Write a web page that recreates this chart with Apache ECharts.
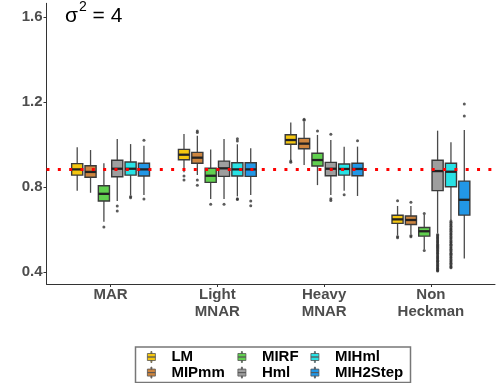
<!DOCTYPE html>
<html>
<head>
<meta charset="utf-8">
<script src="https://cdn.jsdelivr.net/npm/echarts@6/dist/echarts.min.js"></script>
<style>
  html, body { margin: 0; padding: 0; background: #fff; }
  #main { width: 498px; height: 383px; }
</style>
</head>
<body>
<div id="main"></div>
<script>
// categories and methods
const categories = ['MAR', 'Light\nMNAR', 'Heavy\nMNAR', 'Non\nHeckman'];
const methods = ['LM', 'MIPmm', 'MIRF', 'Hml', 'MIHml', 'MIH2Step'];
const methodColors = ['#F5C710', '#CD853F', '#61D04F', '#9E9E9E', '#28E2E5', '#2297E6'];
const yTicks = [0.4, 0.8, 1.2, 1.6];
const refValue = 0.883;

// box stats per category: [min, q1, median, q3, max]
const lmStats = [
  [0.783, 0.856, 0.883, 0.910, 0.987],
  [0.869, 0.928, 0.952, 0.977, 1.049],
  [0.927, 1.001, 1.021, 1.046, 1.104],
  [0.574, 0.629, 0.648, 0.667, 0.711]
];
const mipmmStats = [
  [0.773, 0.846, 0.871, 0.900, 0.974],
  [0.856, 0.912, 0.938, 0.963, 1.041],
  [0.904, 0.980, 1.004, 1.029, 1.107],
  [0.579, 0.624, 0.645, 0.664, 0.711]
];
const mirfStats = [
  [0.637, 0.734, 0.768, 0.806, 0.912],
  [0.744, 0.822, 0.853, 0.888, 0.977],
  [0.809, 0.899, 0.927, 0.959, 1.045],
  [0.507, 0.569, 0.592, 0.610, 0.670]
];
const hmlStats = [
  [0.734, 0.848, 0.886, 0.926, 1.026],
  [0.744, 0.850, 0.888, 0.922, 1.026],
  [0.762, 0.853, 0.886, 0.916, 1.021],
  [0.584, 0.783, 0.875, 0.926, 1.065]
];
const mihmlStats = [
  [0.762, 0.856, 0.886, 0.918, 1.002],
  [0.756, 0.852, 0.883, 0.914, 1.001],
  [0.783, 0.856, 0.885, 0.908, 0.990],
  [0.645, 0.801, 0.872, 0.912, 1.010]
];
const mih2stepStats = [
  [0.762, 0.852, 0.883, 0.912, 0.994],
  [0.762, 0.850, 0.883, 0.914, 0.982],
  [0.758, 0.853, 0.885, 0.912, 0.990],
  [0.464, 0.668, 0.740, 0.828, 1.068]
];

// outliers: [category index, value]
const lmOut = [[1, 0.852], [1, 0.833], [2, 0.922], [2, 0.917], [3, 0.736], [3, 0.567], [3, 0.561]];
const mipmmOut = [[1, 1.064], [1, 1.057], [1, 0.833], [1, 0.808], [2, 1.119], [2, 1.114],
  [3, 0.729], [3, 0.572], [3, 0.566]];
const mirfOut = [[0, 0.612], [1, 0.719], [2, 1.064], [3, 0.675], [3, 0.502]];
const hmlOut = [[0, 0.711], [0, 0.687], [1, 0.719], [2, 1.048], [2, 0.745], [2, 0.737],
  [3, 0.577], [3, 0.572], [3, 0.566], [3, 0.561], [3, 0.557], [3, 0.551], [3, 0.546], [3, 0.541],
  [3, 0.537], [3, 0.531], [3, 0.526], [3, 0.522], [3, 0.517], [3, 0.512], [3, 0.506], [3, 0.502],
  [3, 0.497], [3, 0.491], [3, 0.487], [3, 0.482], [3, 0.476], [3, 0.471], [3, 0.466], [3, 0.462],
  [3, 0.456], [3, 0.451], [3, 0.447], [3, 0.441], [3, 0.436], [3, 0.431], [3, 0.426], [3, 0.421],
  [3, 0.417], [3, 0.412], [3, 0.408], [3, 0.405]];
const mihmlOut = [[0, 0.755], [0, 0.750], [1, 1.016], [1, 1.027], [1, 0.745], [1, 0.741], [2, 0.764],
  [3, 0.640], [3, 0.634], [3, 0.627], [3, 0.621], [3, 0.616], [3, 0.609], [3, 0.603], [3, 0.598],
  [3, 0.592], [3, 0.585], [3, 0.579], [3, 0.574], [3, 0.567], [3, 0.561], [3, 0.556], [3, 0.549],
  [3, 0.543], [3, 0.538], [3, 0.531], [3, 0.526], [3, 0.519], [3, 0.513], [3, 0.508], [3, 0.501],
  [3, 0.496], [3, 0.489], [3, 0.484], [3, 0.478], [3, 0.471], [3, 0.466], [3, 0.459], [3, 0.453],
  [3, 0.447], [3, 0.441], [3, 0.436], [3, 0.429], [3, 0.424], [3, 0.420]];
const mih2stepOut = [[0, 1.020], [0, 0.744], [1, 0.734], [1, 0.712], [2, 1.018], [3, 1.191], [3, 1.134]];

const allStats = [lmStats, mipmmStats, mirfStats, hmlStats, mihmlStats, mih2stepStats];
const allOut = [lmOut, mipmmOut, mirfOut, hmlOut, mihmlOut, mih2stepOut];

const dodge = 0.125;   // spacing between boxes in a group (x units)
const boxW = 0.104;    // box width (x units)

function offsetOf(j) {
  return (j - 2.5) * dodge;
}

function makeBoxRender(j) {
  return function (params, api) {
    const xc = api.value(0) + 1 + offsetOf(j);
    const pMin = api.coord([xc, api.value(1)]);
    const pQ1 = api.coord([xc, api.value(2)]);
    const pMed = api.coord([xc, api.value(3)]);
    const pQ3 = api.coord([xc, api.value(4)]);
    const pMax = api.coord([xc, api.value(5)]);
    const xl = api.coord([xc - boxW / 2, api.value(3)])[0];
    const xr = api.coord([xc + boxW / 2, api.value(3)])[0];
    return {
      type: 'group',
      children: [
        { type: 'line', shape: { x1: pMin[0], y1: pMin[1], x2: pQ1[0], y2: pQ1[1] },
          style: { stroke: '#4a4a4a', lineWidth: 1.3 } },
        { type: 'line', shape: { x1: pQ3[0], y1: pQ3[1], x2: pMax[0], y2: pMax[1] },
          style: { stroke: '#4a4a4a', lineWidth: 1.3 } },
        { type: 'rect', shape: { x: xl, y: pQ3[1], width: xr - xl, height: pQ1[1] - pQ3[1] },
          style: { fill: api.visual('color'), stroke: '#3a3a3a', lineWidth: 1.4 } },
        { type: 'line', shape: { x1: xl, y1: pMed[1], x2: xr, y2: pMed[1] },
          style: { stroke: '#222', lineWidth: 2.3 } }
      ]
    };
  };
}

const series = [];
methods.forEach(function (name, j) {
  series.push({
    name: name,
    type: 'custom',
    renderItem: makeBoxRender(j),
    itemStyle: { color: methodColors[j] },
    encode: { x: 0, y: [1, 2, 3, 4, 5] },
    data: allStats[j].map(function (s, c) { return [c].concat(s); }),
    z: 2
  });
});
methods.forEach(function (name, j) {
  series.push({
    name: name + ' outliers',
    type: 'scatter',
    symbolSize: 3,
    itemStyle: { color: '#333' },
    data: allOut[j].map(function (o) { return [o[0] + 1 + offsetOf(j), o[1]]; }),
    z: 3,
    silent: true
  });
});
series.push({
  name: 'reference',
  type: 'line',
  data: [[0.4, refValue], [4.6, refValue]],
  symbol: 'none',
  lineStyle: { color: '#FF0000', width: 3, type: [3, 8.33], cap: 'butt' },
  z: 5,
  silent: true
});

const legendIcon = 'path://M0,2h8v3.5h-8Z M0,5.5h8v3.5h-8Z M3.5,0h1v2h-1Z M3.5,9h1v2h-1Z';
function makeLegend(left, names) {
  return {
    orient: 'vertical',
    left: left,
    top: 349.5,
    padding: 0,
    itemGap: 0.6,
    itemWidth: 8,
    itemHeight: 11,
    icon: legendIcon,
    itemStyle: { borderColor: '#555', borderWidth: 0.8 },
    data: names,
    selectedMode: false,
    textStyle: {
      fontFamily: 'Liberation Sans',
      fontSize: 15,
      fontWeight: 'bold',
      color: '#000',
      lineHeight: 12,
      padding: [0, 0, 0, 11]
    }
  };
}

const chart = echarts.init(document.getElementById('main'), null, { renderer: 'canvas' });
chart.setOption({
  animation: false,
  backgroundColor: '#fff',
  title: {
    text: '{a|σ}{s|2}{a| = 4}',
    left: 65,
    top: 0,
    padding: 0,
    textStyle: {
      fontWeight: 'normal',
      rich: {
        a: { fontFamily: 'Liberation Sans', fontSize: 21, fontWeight: 'normal', color: '#000', lineHeight: 27, verticalAlign: 'bottom' },
        s: { fontFamily: 'Liberation Sans', fontSize: 14, fontWeight: 'normal', color: '#000', lineHeight: 27, verticalAlign: 'top', padding: [0, 0, 0, 1] }
      }
    }
  },
  grid: { left: 46.5, right: 3, top: 3.3, bottom: 99, containLabel: false, outerBoundsMode: 'none' },
  xAxis: {
    type: 'value',
    min: 0.4,
    max: 4.6,
    splitLine: { show: false },
    axisLine: { show: true, lineStyle: { color: '#333', width: 1 } },
    axisTick: { show: true, customValues: [1, 2, 3, 4], length: 3, lineStyle: { color: '#333' } },
    axisLabel: {
      customValues: [1, 2, 3, 4],
      formatter: function (v) { return categories[Math.round(v) - 1]; },
      fontFamily: 'Liberation Sans',
      fontSize: 15,
      fontWeight: 'bold',
      color: '#4D4D4D',
      lineHeight: 17,
      margin: 2
    }
  },
  yAxis: {
    type: 'value',
    min: 0.344,
    max: 1.664,
    splitLine: { show: false },
    axisLine: { show: true, lineStyle: { color: '#333', width: 1 } },
    axisTick: { show: true, customValues: yTicks, length: 3, lineStyle: { color: '#333' } },
    axisLabel: {
      customValues: yTicks,
      formatter: function (v) { return v.toFixed(1); },
      fontFamily: 'Liberation Sans',
      fontSize: 15,
      fontWeight: 'bold',
      color: '#4D4D4D',
      margin: 4
    }
  },
  legend: [
    makeLegend(147, ['LM', 'MIPmm']),
    makeLegend(237.5, ['MIRF', 'Hml']),
    makeLegend(310.5, ['MIHml', 'MIH2Step'])
  ],
  graphic: [{
    type: 'rect',
    left: 133,
    top: 344.5,
    shape: { width: 275, height: 35.5 },
    style: { fill: 'none', stroke: '#777', lineWidth: 1.5 },
    silent: true
  }],
  series: series
});
</script>
</body>
</html>
